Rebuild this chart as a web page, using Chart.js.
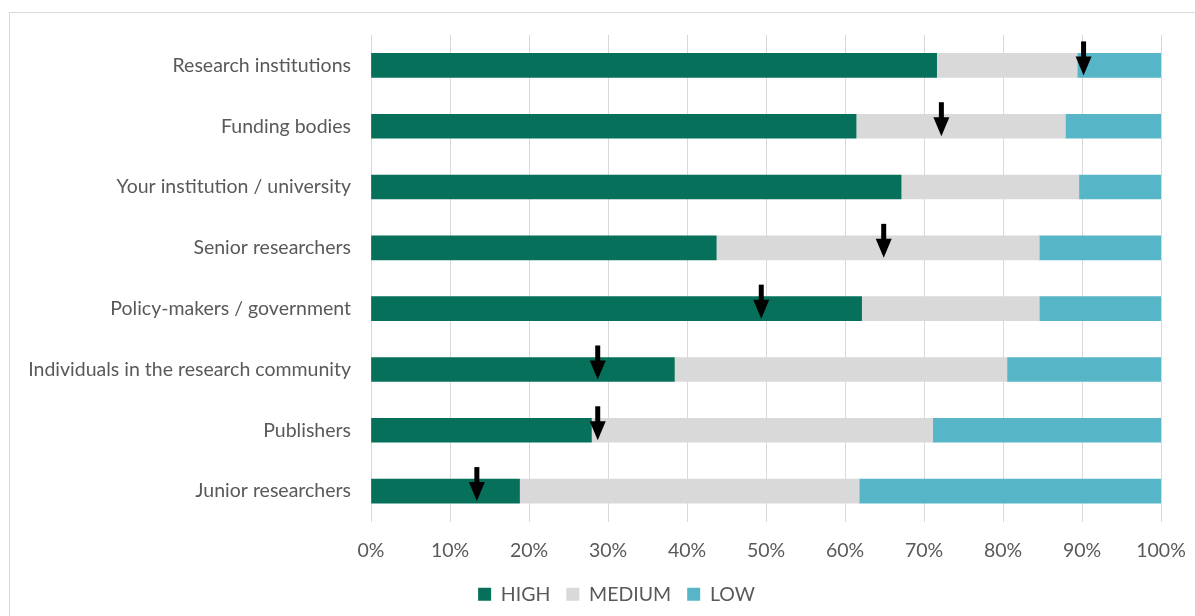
<!DOCTYPE html>
<html>
<head>
<meta charset="utf-8">
<script src="https://cdn.jsdelivr.net/npm/chart.js@4.4.1/dist/chart.umd.min.js"></script>
<style>
  html, body { margin: 0; padding: 0; background: #fff; }
  body { width: 1195px; height: 616px; overflow: hidden; position: relative; }
  #frame { position: absolute; left: 9px; top: 12px; width: 1186px; height: 604px;
           border-left: 1px solid #d9d9d9; border-top: 1px solid #d9d9d9; box-sizing: border-box; }
  #wrap { position: absolute; left: 10px; top: 13px; width: 1185px; height: 603px; }
</style>
</head>
<body>
<div id="frame"></div>
<div id="wrap"><canvas id="c"></canvas></div>
<script>
const categories = [
  "Research institutions",
  "Funding bodies",
  "Your institution / university",
  "Senior researchers",
  "Policy-makers / government",
  "Individuals in the research community",
  "Publishers",
  "Junior researchers"
];
const highValues   = [71.6, 61.4, 67.1, 43.7, 62.1, 38.4, 27.9, 18.8];
const mediumValues = [17.8, 26.5, 22.5, 40.9, 22.5, 42.1, 43.2, 43.0];
const lowValues    = [10.6, 12.1, 10.4, 15.4, 15.4, 19.5, 28.9, 38.2];
const arrowValues  = [90.2, 72.2, null, 64.9, 49.4, 28.7, 28.7, 13.4];
const xTicks = [0, 10, 20, 30, 40, 50, 60, 70, 80, 90, 100];

const FONT = "Lato";
const FS = 19.5;
const TXT = "#595959";

const arrowPlugin = {
  id: "arrows",
  afterLayout(chart) {
    if (chart.legend) { chart.legend.left += 31; chart.legend.right += 31; }
  },
  afterDatasetsDraw(chart) {
    const ctx = chart.ctx;
    const xs = chart.scales.x;
    const meta = chart.getDatasetMeta(0);
    ctx.save();
    ctx.fillStyle = "#000";
    arrowValues.forEach((v, i) => {
      if (v === null) return;
      const x = xs.getPixelForValue(v);
      const bar = meta.data[i];
      const half = bar.height / 2;
      const top = bar.y - half, bottom = bar.y + half;
      const shaftTop = top - 12, headTop = top + 3, tip = bottom - 2;
      ctx.fillRect(x - 2.5, shaftTop, 5, headTop - shaftTop + 1);
      ctx.beginPath();
      ctx.moveTo(x - 8, headTop);
      ctx.lineTo(x + 8, headTop);
      ctx.lineTo(x, tip);
      ctx.closePath();
      ctx.fill();
    });
    ctx.restore();
  }
};

new Chart(document.getElementById("c"), {
  type: "bar",
  data: {
    labels: categories,
    datasets: [
      { label: "HIGH", data: highValues, backgroundColor: "#06705A" },
      { label: "MEDIUM", data: mediumValues, backgroundColor: "#D9D9D9" },
      { label: "LOW", data: lowValues, backgroundColor: "#57B5C8" }
    ]
  },
  options: {
    indexAxis: "y",
    responsive: true,
    maintainAspectRatio: false,
    animation: false,
    layout: { padding: { top: 22, right: 34, bottom: 2, left: 0 } },
    datasets: { bar: { barThickness: 24, borderWidth: 0 } },
    scales: {
      x: {
        stacked: true, min: 0, max: 100,
        afterBuildTicks(s) { s.ticks = xTicks.map(v => ({ value: v })); },
        afterFit(s) { s.height = 47; s.paddingLeft = 0; s.paddingRight = 0; },
        grid: { color: "#d9d9d9", drawTicks: false, lineWidth: 1 },
        border: { display: false },
        ticks: { color: TXT, font: { family: FONT, size: FS }, padding: 18,
                 callback: v => v + "%" }
      },
      y: {
        stacked: true,
        afterFit(s) { s.width = 361; s.paddingTop = 0; s.paddingBottom = 0; },
        grid: { display: false, drawTicks: false },
        border: { display: true, color: "#d9d9d9", width: 1 },
        ticks: { color: TXT, font: { family: FONT, size: FS }, padding: 20 }
      }
    },
    plugins: {
      legend: {
        position: "bottom",
        labels: { color: TXT, font: { family: FONT, size: FS }, boxWidth: 13, boxHeight: 13, padding: 16 }
      },
      tooltip: { enabled: false }
    }
  },
  plugins: [arrowPlugin]
});
</script>
</body>
</html>
